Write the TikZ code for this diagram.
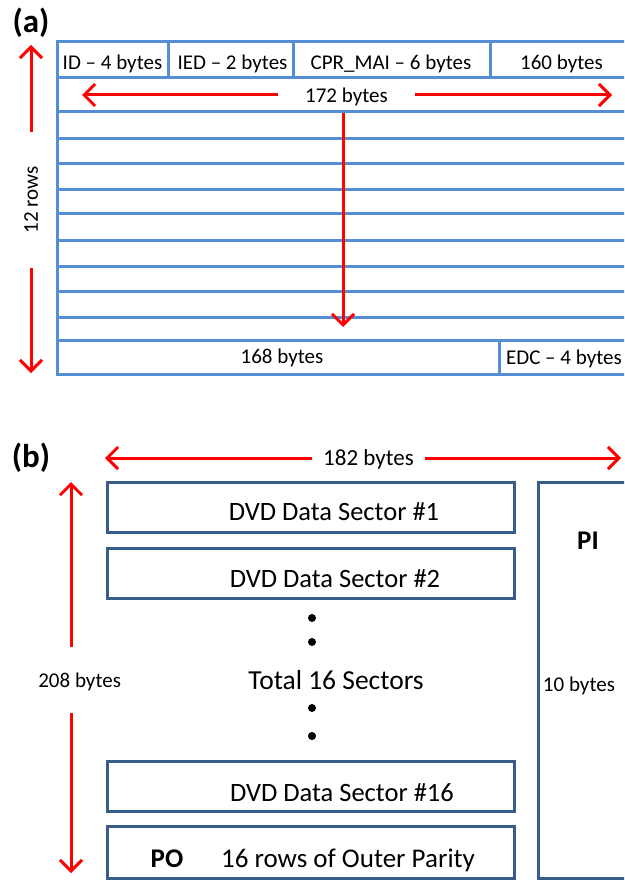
\documentclass[tikz,border=0pt]{standalone}
\usepackage{fontspec}
\setmainfont{Carlito}
\usepackage{tikz}
\usetikzlibrary{arrows.meta, positioning}
\definecolor{tblblue}{RGB}{85,142,213}
\definecolor{boxblue}{RGB}{56,93,138}
\tikzstyle{redarrow} = [draw=red, line width=3pt, -{Straight Barb[length=11pt,width=22pt]}]
\tikzstyle{tbl} = [draw=tblblue, line width=3pt]

\begin{document}
\begin{tikzpicture}[x=1pt, y=-1pt, txt/.style={font=\fontsize{21}{25}\selectfont, inner sep=0pt, text depth=0pt}, big/.style={font=\fontsize{26.5}{31}\selectfont, inner sep=0pt, text depth=0pt}, tag/.style={font=\fontsize{33}{39}\selectfont\bfseries, inner sep=0pt}, sector/.style={draw=boxblue, line width=3pt, minimum width=407pt, minimum height=50pt, inner sep=0pt}]
    \useasboundingbox (0,0) rectangle (624,880);
    \clip (0,0) rectangle (624,880);
    % (a) sector layout
    \node[tag] (taga) at (31,23) {(a)};
    \draw[tbl] (57,42) rectangle (632,374);
    \draw[tbl] (57,78) -- (632,78) (57,112) -- (632,112) (57,138) -- (632,138) (57,163) -- (632,163) (57,189) -- (632,189) (57,213) -- (632,213) (57,240) -- (632,240) (57,266) -- (632,266) (57,291) -- (632,291) (57,317) -- (632,317) (57,340) -- (632,340);
    \draw[tbl] (168,42) -- (168,78) (293,42) -- (293,78) (490,42) -- (490,78) (499,340) -- (499,374);
    \node[txt] (id) at (112.5,62) {ID – 4 bytes};
    \node[txt] (ied) at (232.5,62) {IED – 2 bytes};
    \node[txt] (cpr) at (391,62) {CPR\_MAI – 6 bytes};
    \node[txt] (main) at (561.5,62) {160 bytes};
    \node[txt] (last) at (282,356) {168 bytes};
    \node[txt] (edc) at (564,357) {EDC – 4 bytes};
    \node[txt, minimum width=137pt] (w172) at (346.5,95) {172 bytes};
    \coordinate (w172l) at (82,95);
    \coordinate (w172r) at (612,95);
    \draw[redarrow] (w172) -- (w172l);
    \draw[redarrow] (w172) -- (w172r);
    \coordinate (colTop) at (343,113);
    \coordinate (colBot) at (343,327);
    \draw[redarrow] (colTop) -- (colBot);
    \node[txt, rotate=90, minimum width=136pt] (rows) at (31,200) {12 rows};
    \coordinate (rowsTop) at (31,45);
    \coordinate (rowsBot) at (31,373);
    \draw[redarrow] (rows) -- (rowsTop);
    \draw[redarrow] (rows) -- (rowsBot);
    % (b) ECC block
    \node[tag] (tagb) at (31,458) {(b)};
    \node[txt, font=\fontsize{23}{28}\selectfont, minimum width=113pt] (w182) at (368.5,458) {182 bytes};
    \coordinate (w182l) at (105,458);
    \coordinate (w182r) at (621,458);
    \draw[redarrow] (w182) -- (w182l);
    \draw[redarrow] (w182) -- (w182r);
    \node[txt, minimum height=66pt, text width=100pt, align=flush right] (h208) at (71,680) {208 bytes};
    \coordinate (h208t) at (71,482);
    \coordinate (h208b) at (71,873);
    \draw[redarrow] (h208) -- (h208t);
    \draw[redarrow] (h208) -- (h208b);
    \node[sector] (sec1) at (310.5,507) {};
    \node[sector] (sec2) at (310.5,573) {};
    \node[sector] (sec16) at (310.5,786) {};
    \node[sector, minimum height=52pt] (po) at (310.5,852) {};
    \node[sector, minimum width=94pt, minimum height=396pt] (pi) at (585,680) {};
    \node[big] (sec1t) at (334,512) {DVD Data Sector \#1};
    \node[big] (sec2t) at (335,579) {DVD Data Sector \#2};
    \node[big] (sec16t) at (342,793) {DVD Data Sector \#16};
    \node[big, font=\fontsize{27.5}{32}\selectfont] (total) at (336,680) {Total 16 Sectors};
    \node[circle, fill, inner sep=0pt, minimum size=8pt] (dot1) at (312,618) {};
    \node[circle, fill, inner sep=0pt, minimum size=8pt] (dot2) at (312,642) {};
    \node[circle, fill, inner sep=0pt, minimum size=8pt] (dot3) at (312,708) {};
    \node[circle, fill, inner sep=0pt, minimum size=8pt] (dot4) at (312,736) {};
    \node[big, font=\fontsize{27}{32}\selectfont\bfseries] (pot) at (167,859) {PO};
    \node[big, font=\fontsize{27}{32}\selectfont] (parity) at (348,858) {16 rows of Outer Parity};
    \node[big, font=\fontsize{27}{32}\selectfont\bfseries] (pit) at (588,541) {PI};
    \node[txt] (pibytes) at (579,684) {10 bytes};
\end{tikzpicture}
\end{document}
